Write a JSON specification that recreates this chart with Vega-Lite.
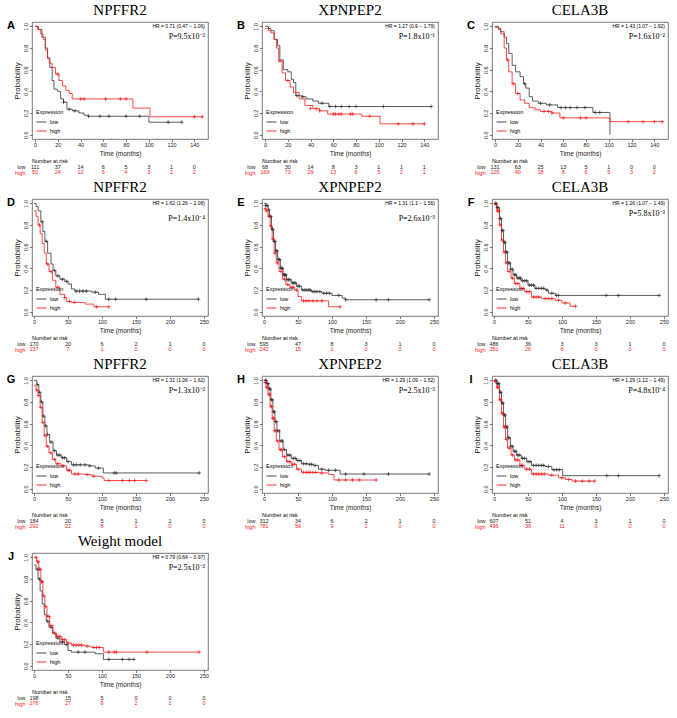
{
"$schema": "https://vega.github.io/schema/vega-lite/v6.json",
"padding": {"left": 6, "top": 2, "right": 2, "bottom": 2},
"background": "white",
"columns": 3,
"spacing": {"row": 3, "column": 27},
"resolve": {"scale": {"color": "independent"}},
"datasets": {
"ann": [
{"p":"A","letter":"A","title":"NPFFR2","hr":"HR = 0.71 (0.47 − 1.06)","pv":"P=9.5x10⁻²"},
{"p":"B","letter":"B","title":"XPNPEP2","hr":"HR = 1.27 (0.9 − 1.79)","pv":"P=1.8x10⁻¹"},
{"p":"C","letter":"C","title":"CELA3B","hr":"HR = 1.43 (1.07 − 1.92)","pv":"P=1.6x10⁻²"},
{"p":"D","letter":"D","title":"NPFFR2","hr":"HR = 1.62 (1.26 − 2.08)","pv":"P=1.4x10⁻⁴"},
{"p":"E","letter":"E","title":"XPNPEP2","hr":"HR = 1.31 (1.1 − 1.56)","pv":"P=2.6x10⁻³"},
{"p":"F","letter":"F","title":"CELA3B","hr":"HR = 1.26 (1.07 − 1.49)","pv":"P=5.8x10⁻³"},
{"p":"G","letter":"G","title":"NPFFR2","hr":"HR = 1.31 (1.06 − 1.62)","pv":"P=1.3x10⁻²"},
{"p":"H","letter":"H","title":"XPNPEP2","hr":"HR = 1.29 (1.09 − 1.52)","pv":"P=2.5x10⁻³"},
{"p":"I","letter":"I","title":"CELA3B","hr":"HR = 1.29 (1.12 − 1.49)","pv":"P=4.8x10⁻⁴"},
{"p":"J","letter":"J","title":"Weight model","hr":"HR = 0.79 (0.64 − 0.97)","pv":"P=2.5x10⁻²"}
],
"risk": [
{"p":"A","g":"low","t":0,"n":111},{"p":"A","g":"low","t":20,"n":37},{"p":"A","g":"low","t":40,"n":14},{"p":"A","g":"low","t":60,"n":6},{"p":"A","g":"low","t":80,"n":5},{"p":"A","g":"low","t":100,"n":3},{"p":"A","g":"low","t":120,"n":1},{"p":"A","g":"low","t":140,"n":0},
{"p":"A","g":"high","t":0,"n":50},{"p":"A","g":"high","t":20,"n":24},{"p":"A","g":"high","t":40,"n":12},{"p":"A","g":"high","t":60,"n":6},{"p":"A","g":"high","t":80,"n":4},{"p":"A","g":"high","t":100,"n":3},{"p":"A","g":"high","t":120,"n":2},{"p":"A","g":"high","t":140,"n":2},
{"p":"B","g":"low","t":0,"n":68},{"p":"B","g":"low","t":20,"n":30},{"p":"B","g":"low","t":40,"n":14},{"p":"B","g":"low","t":60,"n":8},{"p":"B","g":"low","t":80,"n":3},{"p":"B","g":"low","t":100,"n":1},{"p":"B","g":"low","t":120,"n":1},{"p":"B","g":"low","t":140,"n":1},
{"p":"B","g":"high","t":0,"n":169},{"p":"B","g":"high","t":20,"n":73},{"p":"B","g":"high","t":40,"n":29},{"p":"B","g":"high","t":60,"n":13},{"p":"B","g":"high","t":80,"n":6},{"p":"B","g":"high","t":100,"n":5},{"p":"B","g":"high","t":120,"n":2},{"p":"B","g":"high","t":140,"n":1},
{"p":"C","g":"low","t":0,"n":131},{"p":"C","g":"low","t":20,"n":63},{"p":"C","g":"low","t":40,"n":25},{"p":"C","g":"low","t":60,"n":13},{"p":"C","g":"low","t":80,"n":5},{"p":"C","g":"low","t":100,"n":1},{"p":"C","g":"low","t":120,"n":0},{"p":"C","g":"low","t":140,"n":0},
{"p":"C","g":"high","t":0,"n":125},{"p":"C","g":"high","t":20,"n":40},{"p":"C","g":"high","t":40,"n":18},{"p":"C","g":"high","t":60,"n":8},{"p":"C","g":"high","t":80,"n":6},{"p":"C","g":"high","t":100,"n":5},{"p":"C","g":"high","t":120,"n":3},{"p":"C","g":"high","t":140,"n":2},
{"p":"D","g":"low","t":0,"n":170},{"p":"D","g":"low","t":50,"n":20},{"p":"D","g":"low","t":100,"n":6},{"p":"D","g":"low","t":150,"n":2},{"p":"D","g":"low","t":200,"n":1},{"p":"D","g":"low","t":250,"n":0},
{"p":"D","g":"high","t":0,"n":137},{"p":"D","g":"high","t":50,"n":7},{"p":"D","g":"high","t":100,"n":1},{"p":"D","g":"high","t":150,"n":0},{"p":"D","g":"high","t":200,"n":0},{"p":"D","g":"high","t":250,"n":0},
{"p":"E","g":"low","t":0,"n":595},{"p":"E","g":"low","t":50,"n":47},{"p":"E","g":"low","t":100,"n":8},{"p":"E","g":"low","t":150,"n":3},{"p":"E","g":"low","t":200,"n":1},{"p":"E","g":"low","t":250,"n":0},
{"p":"E","g":"high","t":0,"n":242},{"p":"E","g":"high","t":50,"n":15},{"p":"E","g":"high","t":100,"n":1},{"p":"E","g":"high","t":150,"n":0},{"p":"E","g":"high","t":200,"n":0},{"p":"E","g":"high","t":250,"n":0},
{"p":"F","g":"low","t":0,"n":486},{"p":"F","g":"low","t":50,"n":36},{"p":"F","g":"low","t":100,"n":3},{"p":"F","g":"low","t":150,"n":3},{"p":"F","g":"low","t":200,"n":1},{"p":"F","g":"low","t":250,"n":0},
{"p":"F","g":"high","t":0,"n":351},{"p":"F","g":"high","t":50,"n":26},{"p":"F","g":"high","t":100,"n":6},{"p":"F","g":"high","t":150,"n":0},{"p":"F","g":"high","t":200,"n":0},{"p":"F","g":"high","t":250,"n":0},
{"p":"G","g":"low","t":0,"n":184},{"p":"G","g":"low","t":50,"n":20},{"p":"G","g":"low","t":100,"n":5},{"p":"G","g":"low","t":150,"n":1},{"p":"G","g":"low","t":200,"n":1},{"p":"G","g":"low","t":250,"n":0},
{"p":"G","g":"high","t":0,"n":292},{"p":"G","g":"high","t":50,"n":22},{"p":"G","g":"high","t":100,"n":8},{"p":"G","g":"high","t":150,"n":1},{"p":"G","g":"high","t":200,"n":0},{"p":"G","g":"high","t":250,"n":0},
{"p":"H","g":"low","t":0,"n":312},{"p":"H","g":"low","t":50,"n":34},{"p":"H","g":"low","t":100,"n":6},{"p":"H","g":"low","t":150,"n":2},{"p":"H","g":"low","t":200,"n":1},{"p":"H","g":"low","t":250,"n":0},
{"p":"H","g":"high","t":0,"n":781},{"p":"H","g":"high","t":50,"n":56},{"p":"H","g":"high","t":100,"n":9},{"p":"H","g":"high","t":150,"n":1},{"p":"H","g":"high","t":200,"n":0},{"p":"H","g":"high","t":250,"n":0},
{"p":"I","g":"low","t":0,"n":607},{"p":"I","g":"low","t":50,"n":51},{"p":"I","g":"low","t":100,"n":4},{"p":"I","g":"low","t":150,"n":3},{"p":"I","g":"low","t":200,"n":1},{"p":"I","g":"low","t":250,"n":0},
{"p":"I","g":"high","t":0,"n":496},{"p":"I","g":"high","t":50,"n":39},{"p":"I","g":"high","t":100,"n":11},{"p":"I","g":"high","t":150,"n":0},{"p":"I","g":"high","t":200,"n":0},{"p":"I","g":"high","t":250,"n":0},
{"p":"J","g":"low","t":0,"n":198},{"p":"J","g":"low","t":50,"n":15},{"p":"J","g":"low","t":100,"n":5},{"p":"J","g":"low","t":150,"n":0},{"p":"J","g":"low","t":200,"n":0},{"p":"J","g":"low","t":250,"n":0},
{"p":"J","g":"high","t":0,"n":276},{"p":"J","g":"high","t":50,"n":27},{"p":"J","g":"high","t":100,"n":8},{"p":"J","g":"high","t":150,"n":2},{"p":"J","g":"high","t":200,"n":1},{"p":"J","g":"high","t":250,"n":0}
],
"km": [
{"p":"A","g":"low","t":0,"s":1},{"p":"A","g":"low","t":3,"s":0.97},{"p":"A","g":"low","t":6,"s":0.9},{"p":"A","g":"low","t":9,"s":0.8},{"p":"A","g":"low","t":11,"s":0.71},{"p":"A","g":"low","t":13,"s":0.62},{"p":"A","g":"low","t":15,"s":0.5},{"p":"A","g":"low","t":16.6,"s":0.42},{"p":"A","g":"low","t":19.5,"s":0.4},{"p":"A","g":"low","t":22.5,"s":0.33},{"p":"A","g":"low","t":25,"s":0.3},{"p":"A","g":"low","t":28,"s":0.235},{"p":"A","g":"low","t":32.7,"s":0.22},{"p":"A","g":"low","t":38.5,"s":0.2},{"p":"A","g":"low","t":43,"s":0.18},{"p":"A","g":"low","t":47,"s":0.17},{"p":"A","g":"low","t":100,"s":0.115},{"p":"A","g":"low","t":129,"s":0.115},
{"p":"A","g":"high","t":0,"s":1},{"p":"A","g":"high","t":2,"s":0.97},{"p":"A","g":"high","t":5,"s":0.93},{"p":"A","g":"high","t":7,"s":0.88},{"p":"A","g":"high","t":9,"s":0.78},{"p":"A","g":"high","t":11,"s":0.7},{"p":"A","g":"high","t":12.5,"s":0.66},{"p":"A","g":"high","t":15,"s":0.62},{"p":"A","g":"high","t":18,"s":0.56},{"p":"A","g":"high","t":21,"s":0.5},{"p":"A","g":"high","t":24,"s":0.45},{"p":"A","g":"high","t":27,"s":0.41},{"p":"A","g":"high","t":30,"s":0.38},{"p":"A","g":"high","t":32.7,"s":0.33},{"p":"A","g":"high","t":86,"s":0.245},{"p":"A","g":"high","t":101,"s":0.165},{"p":"A","g":"high","t":147,"s":0.165},
{"p":"B","g":"low","t":0,"s":1},{"p":"B","g":"low","t":3,"s":0.98},{"p":"B","g":"low","t":5,"s":0.96},{"p":"B","g":"low","t":8,"s":0.88},{"p":"B","g":"low","t":11,"s":0.82},{"p":"B","g":"low","t":13,"s":0.69},{"p":"B","g":"low","t":16,"s":0.6},{"p":"B","g":"low","t":20,"s":0.58},{"p":"B","g":"low","t":23,"s":0.51},{"p":"B","g":"low","t":25,"s":0.48},{"p":"B","g":"low","t":27,"s":0.36},{"p":"B","g":"low","t":32,"s":0.35},{"p":"B","g":"low","t":36,"s":0.33},{"p":"B","g":"low","t":42,"s":0.31},{"p":"B","g":"low","t":47,"s":0.29},{"p":"B","g":"low","t":56,"s":0.26},{"p":"B","g":"low","t":146,"s":0.26},
{"p":"B","g":"high","t":0,"s":0.98},{"p":"B","g":"high","t":3,"s":0.96},{"p":"B","g":"high","t":5,"s":0.94},{"p":"B","g":"high","t":8,"s":0.88},{"p":"B","g":"high","t":10,"s":0.8},{"p":"B","g":"high","t":12,"s":0.68},{"p":"B","g":"high","t":15,"s":0.57},{"p":"B","g":"high","t":18,"s":0.5},{"p":"B","g":"high","t":22,"s":0.44},{"p":"B","g":"high","t":25,"s":0.39},{"p":"B","g":"high","t":30,"s":0.33},{"p":"B","g":"high","t":35,"s":0.27},{"p":"B","g":"high","t":42,"s":0.24},{"p":"B","g":"high","t":48,"s":0.22},{"p":"B","g":"high","t":55,"s":0.19},{"p":"B","g":"high","t":85,"s":0.17},{"p":"B","g":"high","t":101,"s":0.1},{"p":"B","g":"high","t":140,"s":0.1},
{"p":"C","g":"low","t":0,"s":1},{"p":"C","g":"low","t":3,"s":0.98},{"p":"C","g":"low","t":5,"s":0.95},{"p":"C","g":"low","t":8,"s":0.9},{"p":"C","g":"low","t":10,"s":0.84},{"p":"C","g":"low","t":12,"s":0.75},{"p":"C","g":"low","t":15,"s":0.64},{"p":"C","g":"low","t":18,"s":0.58},{"p":"C","g":"low","t":22,"s":0.535},{"p":"C","g":"low","t":25,"s":0.47},{"p":"C","g":"low","t":27,"s":0.43},{"p":"C","g":"low","t":30,"s":0.35},{"p":"C","g":"low","t":33,"s":0.31},{"p":"C","g":"low","t":38,"s":0.29},{"p":"C","g":"low","t":45,"s":0.275},{"p":"C","g":"low","t":55,"s":0.25},{"p":"C","g":"low","t":86,"s":0.205},{"p":"C","g":"low","t":101,"s":0},
{"p":"C","g":"high","t":0,"s":0.99},{"p":"C","g":"high","t":3,"s":0.97},{"p":"C","g":"high","t":5,"s":0.93},{"p":"C","g":"high","t":8,"s":0.8},{"p":"C","g":"high","t":10,"s":0.69},{"p":"C","g":"high","t":12,"s":0.58},{"p":"C","g":"high","t":15,"s":0.47},{"p":"C","g":"high","t":18,"s":0.38},{"p":"C","g":"high","t":22,"s":0.32},{"p":"C","g":"high","t":26,"s":0.29},{"p":"C","g":"high","t":30,"s":0.25},{"p":"C","g":"high","t":35,"s":0.23},{"p":"C","g":"high","t":40,"s":0.215},{"p":"C","g":"high","t":50,"s":0.2},{"p":"C","g":"high","t":57,"s":0.155},{"p":"C","g":"high","t":101,"s":0.12},{"p":"C","g":"high","t":147,"s":0.12},
{"p":"D","g":"low","t":0,"s":1},{"p":"D","g":"low","t":3,"s":0.97},{"p":"D","g":"low","t":6,"s":0.93},{"p":"D","g":"low","t":10,"s":0.83},{"p":"D","g":"low","t":13,"s":0.74},{"p":"D","g":"low","t":16,"s":0.65},{"p":"D","g":"low","t":20,"s":0.54},{"p":"D","g":"low","t":25,"s":0.44},{"p":"D","g":"low","t":28,"s":0.38},{"p":"D","g":"low","t":32,"s":0.33},{"p":"D","g":"low","t":38,"s":0.3},{"p":"D","g":"low","t":45,"s":0.28},{"p":"D","g":"low","t":50,"s":0.255},{"p":"D","g":"low","t":55,"s":0.21},{"p":"D","g":"low","t":60,"s":0.19},{"p":"D","g":"low","t":85,"s":0.18},{"p":"D","g":"low","t":95,"s":0.16},{"p":"D","g":"low","t":105,"s":0.115},{"p":"D","g":"low","t":242,"s":0.115},
{"p":"D","g":"high","t":0,"s":0.93},{"p":"D","g":"high","t":3,"s":0.88},{"p":"D","g":"high","t":6,"s":0.8},{"p":"D","g":"high","t":9,"s":0.72},{"p":"D","g":"high","t":12,"s":0.63},{"p":"D","g":"high","t":15,"s":0.54},{"p":"D","g":"high","t":18,"s":0.44},{"p":"D","g":"high","t":22,"s":0.37},{"p":"D","g":"high","t":27,"s":0.29},{"p":"D","g":"high","t":32,"s":0.225},{"p":"D","g":"high","t":38,"s":0.16},{"p":"D","g":"high","t":45,"s":0.13},{"p":"D","g":"high","t":48,"s":0.095},{"p":"D","g":"high","t":55,"s":0.085},{"p":"D","g":"high","t":75,"s":0.07},{"p":"D","g":"high","t":88,"s":0.045},{"p":"D","g":"high","t":110,"s":0.045},
{"p":"E","g":"low","t":0,"s":1},{"p":"E","g":"low","t":3,"s":0.98},{"p":"E","g":"low","t":6,"s":0.94},{"p":"E","g":"low","t":8,"s":0.88},{"p":"E","g":"low","t":11,"s":0.76},{"p":"E","g":"low","t":14,"s":0.65},{"p":"E","g":"low","t":17,"s":0.56},{"p":"E","g":"low","t":20,"s":0.48},{"p":"E","g":"low","t":24,"s":0.4},{"p":"E","g":"low","t":28,"s":0.34},{"p":"E","g":"low","t":33,"s":0.295},{"p":"E","g":"low","t":40,"s":0.265},{"p":"E","g":"low","t":48,"s":0.235},{"p":"E","g":"low","t":55,"s":0.2},{"p":"E","g":"low","t":70,"s":0.185},{"p":"E","g":"low","t":85,"s":0.17},{"p":"E","g":"low","t":100,"s":0.15},{"p":"E","g":"low","t":115,"s":0.125},{"p":"E","g":"low","t":120,"s":0.11},{"p":"E","g":"low","t":243,"s":0.11},
{"p":"E","g":"high","t":0,"s":0.95},{"p":"E","g":"high","t":3,"s":0.93},{"p":"E","g":"high","t":6,"s":0.88},{"p":"E","g":"high","t":9,"s":0.79},{"p":"E","g":"high","t":12,"s":0.67},{"p":"E","g":"high","t":15,"s":0.54},{"p":"E","g":"high","t":18,"s":0.45},{"p":"E","g":"high","t":22,"s":0.37},{"p":"E","g":"high","t":27,"s":0.3},{"p":"E","g":"high","t":32,"s":0.25},{"p":"E","g":"high","t":38,"s":0.225},{"p":"E","g":"high","t":45,"s":0.2},{"p":"E","g":"high","t":50,"s":0.14},{"p":"E","g":"high","t":55,"s":0.1},{"p":"E","g":"high","t":95,"s":0.045},{"p":"E","g":"high","t":112,"s":0.045},
{"p":"F","g":"low","t":0,"s":1},{"p":"F","g":"low","t":4,"s":0.96},{"p":"F","g":"low","t":8,"s":0.86},{"p":"F","g":"low","t":11,"s":0.75},{"p":"F","g":"low","t":14,"s":0.64},{"p":"F","g":"low","t":17,"s":0.55},{"p":"F","g":"low","t":20,"s":0.45},{"p":"F","g":"low","t":24,"s":0.39},{"p":"F","g":"low","t":28,"s":0.34},{"p":"F","g":"low","t":33,"s":0.31},{"p":"F","g":"low","t":40,"s":0.285},{"p":"F","g":"low","t":50,"s":0.245},{"p":"F","g":"low","t":60,"s":0.215},{"p":"F","g":"low","t":75,"s":0.2},{"p":"F","g":"low","t":80,"s":0.17},{"p":"F","g":"low","t":90,"s":0.15},{"p":"F","g":"low","t":243,"s":0.15},
{"p":"F","g":"high","t":0,"s":0.99},{"p":"F","g":"high","t":4,"s":0.93},{"p":"F","g":"high","t":8,"s":0.8},{"p":"F","g":"high","t":11,"s":0.66},{"p":"F","g":"high","t":14,"s":0.55},{"p":"F","g":"high","t":17,"s":0.45},{"p":"F","g":"high","t":20,"s":0.37},{"p":"F","g":"high","t":25,"s":0.31},{"p":"F","g":"high","t":30,"s":0.26},{"p":"F","g":"high","t":38,"s":0.215},{"p":"F","g":"high","t":45,"s":0.185},{"p":"F","g":"high","t":55,"s":0.135},{"p":"F","g":"high","t":70,"s":0.12},{"p":"F","g":"high","t":90,"s":0.105},{"p":"F","g":"high","t":100,"s":0.08},{"p":"F","g":"high","t":112,"s":0.05},{"p":"F","g":"high","t":120,"s":0.05},
{"p":"G","g":"low","t":0,"s":1},{"p":"G","g":"low","t":4,"s":0.96},{"p":"G","g":"low","t":7,"s":0.89},{"p":"G","g":"low","t":10,"s":0.8},{"p":"G","g":"low","t":13,"s":0.67},{"p":"G","g":"low","t":16,"s":0.58},{"p":"G","g":"low","t":19,"s":0.5},{"p":"G","g":"low","t":23,"s":0.43},{"p":"G","g":"low","t":28,"s":0.35},{"p":"G","g":"low","t":33,"s":0.31},{"p":"G","g":"low","t":40,"s":0.285},{"p":"G","g":"low","t":48,"s":0.25},{"p":"G","g":"low","t":55,"s":0.22},{"p":"G","g":"low","t":80,"s":0.21},{"p":"G","g":"low","t":90,"s":0.19},{"p":"G","g":"low","t":102,"s":0.145},{"p":"G","g":"low","t":243,"s":0.145},
{"p":"G","g":"high","t":0,"s":0.95},{"p":"G","g":"high","t":3,"s":0.91},{"p":"G","g":"high","t":6,"s":0.86},{"p":"G","g":"high","t":9,"s":0.75},{"p":"G","g":"high","t":12,"s":0.61},{"p":"G","g":"high","t":15,"s":0.49},{"p":"G","g":"high","t":18,"s":0.39},{"p":"G","g":"high","t":22,"s":0.33},{"p":"G","g":"high","t":27,"s":0.27},{"p":"G","g":"high","t":32,"s":0.23},{"p":"G","g":"high","t":40,"s":0.21},{"p":"G","g":"high","t":48,"s":0.17},{"p":"G","g":"high","t":55,"s":0.135},{"p":"G","g":"high","t":75,"s":0.13},{"p":"G","g":"high","t":85,"s":0.115},{"p":"G","g":"high","t":100,"s":0.1},{"p":"G","g":"high","t":103,"s":0.075},{"p":"G","g":"high","t":165,"s":0.075},
{"p":"H","g":"low","t":0,"s":1},{"p":"H","g":"low","t":4,"s":0.97},{"p":"H","g":"low","t":7,"s":0.92},{"p":"H","g":"low","t":10,"s":0.82},{"p":"H","g":"low","t":13,"s":0.71},{"p":"H","g":"low","t":16,"s":0.62},{"p":"H","g":"low","t":19,"s":0.535},{"p":"H","g":"low","t":23,"s":0.44},{"p":"H","g":"low","t":28,"s":0.36},{"p":"H","g":"low","t":33,"s":0.31},{"p":"H","g":"low","t":40,"s":0.28},{"p":"H","g":"low","t":48,"s":0.26},{"p":"H","g":"low","t":55,"s":0.23},{"p":"H","g":"low","t":65,"s":0.225},{"p":"H","g":"low","t":72,"s":0.215},{"p":"H","g":"low","t":80,"s":0.18},{"p":"H","g":"low","t":90,"s":0.17},{"p":"H","g":"low","t":112,"s":0.135},{"p":"H","g":"low","t":243,"s":0.135},
{"p":"H","g":"high","t":0,"s":0.98},{"p":"H","g":"high","t":3,"s":0.935},{"p":"H","g":"high","t":6,"s":0.87},{"p":"H","g":"high","t":9,"s":0.76},{"p":"H","g":"high","t":12,"s":0.65},{"p":"H","g":"high","t":15,"s":0.535},{"p":"H","g":"high","t":18,"s":0.44},{"p":"H","g":"high","t":22,"s":0.36},{"p":"H","g":"high","t":27,"s":0.295},{"p":"H","g":"high","t":33,"s":0.25},{"p":"H","g":"high","t":40,"s":0.225},{"p":"H","g":"high","t":48,"s":0.18},{"p":"H","g":"high","t":55,"s":0.15},{"p":"H","g":"high","t":80,"s":0.145},{"p":"H","g":"high","t":95,"s":0.13},{"p":"H","g":"high","t":103,"s":0.08},{"p":"H","g":"high","t":165,"s":0.08},
{"p":"I","g":"low","t":0,"s":1},{"p":"I","g":"low","t":4,"s":0.97},{"p":"I","g":"low","t":8,"s":0.89},{"p":"I","g":"low","t":11,"s":0.79},{"p":"I","g":"low","t":14,"s":0.68},{"p":"I","g":"low","t":17,"s":0.57},{"p":"I","g":"low","t":20,"s":0.47},{"p":"I","g":"low","t":24,"s":0.39},{"p":"I","g":"low","t":28,"s":0.345},{"p":"I","g":"low","t":33,"s":0.31},{"p":"I","g":"low","t":40,"s":0.28},{"p":"I","g":"low","t":48,"s":0.25},{"p":"I","g":"low","t":55,"s":0.215},{"p":"I","g":"low","t":75,"s":0.205},{"p":"I","g":"low","t":85,"s":0.175},{"p":"I","g":"low","t":101,"s":0.12},{"p":"I","g":"low","t":243,"s":0.12},
{"p":"I","g":"high","t":0,"s":0.99},{"p":"I","g":"high","t":4,"s":0.935},{"p":"I","g":"high","t":8,"s":0.82},{"p":"I","g":"high","t":11,"s":0.695},{"p":"I","g":"high","t":14,"s":0.57},{"p":"I","g":"high","t":17,"s":0.455},{"p":"I","g":"high","t":20,"s":0.375},{"p":"I","g":"high","t":25,"s":0.31},{"p":"I","g":"high","t":30,"s":0.265},{"p":"I","g":"high","t":38,"s":0.215},{"p":"I","g":"high","t":45,"s":0.18},{"p":"I","g":"high","t":55,"s":0.135},{"p":"I","g":"high","t":80,"s":0.125},{"p":"I","g":"high","t":95,"s":0.1},{"p":"I","g":"high","t":105,"s":0.085},{"p":"I","g":"high","t":115,"s":0.07},{"p":"I","g":"high","t":148,"s":0.07},
{"p":"J","g":"low","t":0,"s":0.93},{"p":"J","g":"low","t":3,"s":0.89},{"p":"J","g":"low","t":6,"s":0.8},{"p":"J","g":"low","t":9,"s":0.69},{"p":"J","g":"low","t":12,"s":0.57},{"p":"J","g":"low","t":15,"s":0.47},{"p":"J","g":"low","t":18,"s":0.41},{"p":"J","g":"low","t":22,"s":0.355},{"p":"J","g":"low","t":27,"s":0.3},{"p":"J","g":"low","t":32,"s":0.255},{"p":"J","g":"low","t":38,"s":0.22},{"p":"J","g":"low","t":45,"s":0.195},{"p":"J","g":"low","t":50,"s":0.14},{"p":"J","g":"low","t":55,"s":0.125},{"p":"J","g":"low","t":90,"s":0.11},{"p":"J","g":"low","t":102,"s":0.058},{"p":"J","g":"low","t":147,"s":0.058},
{"p":"J","g":"high","t":0,"s":1},{"p":"J","g":"high","t":4,"s":0.96},{"p":"J","g":"high","t":7,"s":0.89},{"p":"J","g":"high","t":10,"s":0.775},{"p":"J","g":"high","t":13,"s":0.645},{"p":"J","g":"high","t":16,"s":0.545},{"p":"J","g":"high","t":19,"s":0.455},{"p":"J","g":"high","t":23,"s":0.37},{"p":"J","g":"high","t":28,"s":0.3},{"p":"J","g":"high","t":33,"s":0.27},{"p":"J","g":"high","t":40,"s":0.24},{"p":"J","g":"high","t":48,"s":0.21},{"p":"J","g":"high","t":55,"s":0.19},{"p":"J","g":"high","t":75,"s":0.18},{"p":"J","g":"high","t":85,"s":0.168},{"p":"J","g":"high","t":102,"s":0.125},{"p":"J","g":"high","t":243,"s":0.125}
],
"cens": [
{"p":"A","g":"low","t":25,"s":0.3},{"p":"A","g":"low","t":30,"s":0.235},{"p":"A","g":"low","t":35,"s":0.22},{"p":"A","g":"low","t":47,"s":0.17},{"p":"A","g":"low","t":57,"s":0.17},{"p":"A","g":"low","t":65,"s":0.17},{"p":"A","g":"low","t":80,"s":0.17},{"p":"A","g":"low","t":92,"s":0.17},{"p":"A","g":"low","t":117,"s":0.115},{"p":"A","g":"low","t":129,"s":0.115},
{"p":"A","g":"high","t":20,"s":0.56},{"p":"A","g":"high","t":40,"s":0.33},{"p":"A","g":"high","t":43,"s":0.33},{"p":"A","g":"high","t":62,"s":0.33},{"p":"A","g":"high","t":75,"s":0.33},{"p":"A","g":"high","t":80,"s":0.33},{"p":"A","g":"high","t":140,"s":0.165},{"p":"A","g":"high","t":147,"s":0.165},
{"p":"B","g":"low","t":28,"s":0.36},{"p":"B","g":"low","t":33,"s":0.35},{"p":"B","g":"low","t":50,"s":0.29},{"p":"B","g":"low","t":57,"s":0.26},{"p":"B","g":"low","t":62,"s":0.26},{"p":"B","g":"low","t":67,"s":0.26},{"p":"B","g":"low","t":74,"s":0.26},{"p":"B","g":"low","t":80,"s":0.26},{"p":"B","g":"low","t":104,"s":0.26},{"p":"B","g":"low","t":146,"s":0.26},
{"p":"B","g":"high","t":13,"s":0.68},{"p":"B","g":"high","t":20,"s":0.5},{"p":"B","g":"high","t":40,"s":0.24},{"p":"B","g":"high","t":45,"s":0.24},{"p":"B","g":"high","t":48,"s":0.22},{"p":"B","g":"high","t":60,"s":0.19},{"p":"B","g":"high","t":62,"s":0.19},{"p":"B","g":"high","t":65,"s":0.19},{"p":"B","g":"high","t":67,"s":0.19},{"p":"B","g":"high","t":75,"s":0.19},{"p":"B","g":"high","t":77,"s":0.19},{"p":"B","g":"high","t":92,"s":0.17},{"p":"B","g":"high","t":117,"s":0.1},{"p":"B","g":"high","t":130,"s":0.1},{"p":"B","g":"high","t":140,"s":0.1},
{"p":"C","g":"low","t":26,"s":0.47},{"p":"C","g":"low","t":40,"s":0.29},{"p":"C","g":"low","t":48,"s":0.275},{"p":"C","g":"low","t":58,"s":0.25},{"p":"C","g":"low","t":62,"s":0.25},{"p":"C","g":"low","t":66,"s":0.25},{"p":"C","g":"low","t":72,"s":0.25},{"p":"C","g":"low","t":79,"s":0.25},{"p":"C","g":"low","t":88,"s":0.205},{"p":"C","g":"low","t":92,"s":0.205},
{"p":"C","g":"high","t":11,"s":0.69},{"p":"C","g":"high","t":16,"s":0.47},{"p":"C","g":"high","t":20,"s":0.38},{"p":"C","g":"high","t":43,"s":0.215},{"p":"C","g":"high","t":47,"s":0.215},{"p":"C","g":"high","t":50,"s":0.2},{"p":"C","g":"high","t":60,"s":0.155},{"p":"C","g":"high","t":75,"s":0.155},{"p":"C","g":"high","t":80,"s":0.155},{"p":"C","g":"high","t":117,"s":0.12},{"p":"C","g":"high","t":130,"s":0.12},{"p":"C","g":"high","t":140,"s":0.12},{"p":"C","g":"high","t":147,"s":0.12},
{"p":"D","g":"low","t":12,"s":0.83},{"p":"D","g":"low","t":18,"s":0.65},{"p":"D","g":"low","t":30,"s":0.38},{"p":"D","g":"low","t":35,"s":0.33},{"p":"D","g":"low","t":42,"s":0.3},{"p":"D","g":"low","t":48,"s":0.28},{"p":"D","g":"low","t":62,"s":0.19},{"p":"D","g":"low","t":67,"s":0.19},{"p":"D","g":"low","t":72,"s":0.19},{"p":"D","g":"low","t":77,"s":0.19},{"p":"D","g":"low","t":90,"s":0.18},{"p":"D","g":"low","t":110,"s":0.115},{"p":"D","g":"low","t":120,"s":0.115},{"p":"D","g":"low","t":165,"s":0.115},{"p":"D","g":"low","t":242,"s":0.115},
{"p":"D","g":"high","t":8,"s":0.8},{"p":"D","g":"high","t":20,"s":0.44},{"p":"D","g":"high","t":25,"s":0.37},{"p":"D","g":"high","t":35,"s":0.225},{"p":"D","g":"high","t":45,"s":0.13},{"p":"D","g":"high","t":52,"s":0.095},{"p":"D","g":"high","t":60,"s":0.085},{"p":"D","g":"high","t":92,"s":0.045},{"p":"D","g":"high","t":110,"s":0.045},
{"p":"E","g":"low","t":2,"s":0.98},{"p":"E","g":"low","t":4,"s":0.98},{"p":"E","g":"low","t":5,"s":0.98},{"p":"E","g":"low","t":7,"s":0.94},{"p":"E","g":"low","t":9,"s":0.88},{"p":"E","g":"low","t":10,"s":0.88},{"p":"E","g":"low","t":12,"s":0.76},{"p":"E","g":"low","t":13,"s":0.76},{"p":"E","g":"low","t":15,"s":0.65},{"p":"E","g":"low","t":16,"s":0.65},{"p":"E","g":"low","t":18,"s":0.56},{"p":"E","g":"low","t":19,"s":0.56},{"p":"E","g":"low","t":21,"s":0.48},{"p":"E","g":"low","t":22,"s":0.48},{"p":"E","g":"low","t":23,"s":0.48},{"p":"E","g":"low","t":25,"s":0.4},{"p":"E","g":"low","t":26,"s":0.4},{"p":"E","g":"low","t":27,"s":0.4},{"p":"E","g":"low","t":29,"s":0.34},{"p":"E","g":"low","t":30,"s":0.34},{"p":"E","g":"low","t":31,"s":0.34},{"p":"E","g":"low","t":32,"s":0.34},{"p":"E","g":"low","t":34,"s":0.295},{"p":"E","g":"low","t":36,"s":0.295},{"p":"E","g":"low","t":38,"s":0.295},{"p":"E","g":"low","t":42,"s":0.265},{"p":"E","g":"low","t":44,"s":0.265},{"p":"E","g":"low","t":46,"s":0.265},{"p":"E","g":"low","t":50,"s":0.235},{"p":"E","g":"low","t":52,"s":0.235},{"p":"E","g":"low","t":57,"s":0.2},{"p":"E","g":"low","t":60,"s":0.2},{"p":"E","g":"low","t":63,"s":0.2},{"p":"E","g":"low","t":66,"s":0.2},{"p":"E","g":"low","t":68,"s":0.2},{"p":"E","g":"low","t":72,"s":0.185},{"p":"E","g":"low","t":75,"s":0.185},{"p":"E","g":"low","t":78,"s":0.185},{"p":"E","g":"low","t":82,"s":0.185},{"p":"E","g":"low","t":88,"s":0.17},{"p":"E","g":"low","t":92,"s":0.17},{"p":"E","g":"low","t":96,"s":0.17},{"p":"E","g":"low","t":110,"s":0.15},{"p":"E","g":"low","t":120,"s":0.11},{"p":"E","g":"low","t":165,"s":0.11},{"p":"E","g":"low","t":183,"s":0.11},{"p":"E","g":"low","t":243,"s":0.11},
{"p":"E","g":"high","t":2,"s":0.95},{"p":"E","g":"high","t":4,"s":0.93},{"p":"E","g":"high","t":7,"s":0.88},{"p":"E","g":"high","t":10,"s":0.79},{"p":"E","g":"high","t":13,"s":0.67},{"p":"E","g":"high","t":16,"s":0.54},{"p":"E","g":"high","t":20,"s":0.45},{"p":"E","g":"high","t":25,"s":0.37},{"p":"E","g":"high","t":30,"s":0.3},{"p":"E","g":"high","t":35,"s":0.25},{"p":"E","g":"high","t":40,"s":0.225},{"p":"E","g":"high","t":43,"s":0.225},{"p":"E","g":"high","t":48,"s":0.2},{"p":"E","g":"high","t":58,"s":0.1},{"p":"E","g":"high","t":62,"s":0.1},{"p":"E","g":"high","t":66,"s":0.1},{"p":"E","g":"high","t":72,"s":0.1},{"p":"E","g":"high","t":78,"s":0.1},{"p":"E","g":"high","t":85,"s":0.1},{"p":"E","g":"high","t":112,"s":0.045},
{"p":"F","g":"low","t":2,"s":1},{"p":"F","g":"low","t":3,"s":1},{"p":"F","g":"low","t":5,"s":0.96},{"p":"F","g":"low","t":6,"s":0.96},{"p":"F","g":"low","t":9,"s":0.86},{"p":"F","g":"low","t":10,"s":0.86},{"p":"F","g":"low","t":12,"s":0.75},{"p":"F","g":"low","t":13,"s":0.75},{"p":"F","g":"low","t":15,"s":0.64},{"p":"F","g":"low","t":16,"s":0.64},{"p":"F","g":"low","t":18,"s":0.55},{"p":"F","g":"low","t":19,"s":0.55},{"p":"F","g":"low","t":21,"s":0.45},{"p":"F","g":"low","t":23,"s":0.45},{"p":"F","g":"low","t":25,"s":0.39},{"p":"F","g":"low","t":27,"s":0.39},{"p":"F","g":"low","t":30,"s":0.34},{"p":"F","g":"low","t":32,"s":0.34},{"p":"F","g":"low","t":35,"s":0.31},{"p":"F","g":"low","t":37,"s":0.31},{"p":"F","g":"low","t":39,"s":0.31},{"p":"F","g":"low","t":42,"s":0.285},{"p":"F","g":"low","t":45,"s":0.285},{"p":"F","g":"low","t":48,"s":0.285},{"p":"F","g":"low","t":52,"s":0.245},{"p":"F","g":"low","t":55,"s":0.245},{"p":"F","g":"low","t":58,"s":0.245},{"p":"F","g":"low","t":62,"s":0.215},{"p":"F","g":"low","t":66,"s":0.215},{"p":"F","g":"low","t":70,"s":0.215},{"p":"F","g":"low","t":73,"s":0.215},{"p":"F","g":"low","t":78,"s":0.2},{"p":"F","g":"low","t":85,"s":0.17},{"p":"F","g":"low","t":92,"s":0.15},{"p":"F","g":"low","t":95,"s":0.15},{"p":"F","g":"low","t":165,"s":0.15},{"p":"F","g":"low","t":183,"s":0.15},{"p":"F","g":"low","t":243,"s":0.15},
{"p":"F","g":"high","t":3,"s":0.99},{"p":"F","g":"high","t":5,"s":0.93},{"p":"F","g":"high","t":7,"s":0.93},{"p":"F","g":"high","t":9,"s":0.8},{"p":"F","g":"high","t":12,"s":0.66},{"p":"F","g":"high","t":15,"s":0.55},{"p":"F","g":"high","t":18,"s":0.45},{"p":"F","g":"high","t":22,"s":0.37},{"p":"F","g":"high","t":27,"s":0.31},{"p":"F","g":"high","t":32,"s":0.26},{"p":"F","g":"high","t":35,"s":0.26},{"p":"F","g":"high","t":40,"s":0.215},{"p":"F","g":"high","t":43,"s":0.215},{"p":"F","g":"high","t":48,"s":0.185},{"p":"F","g":"high","t":52,"s":0.185},{"p":"F","g":"high","t":58,"s":0.135},{"p":"F","g":"high","t":62,"s":0.135},{"p":"F","g":"high","t":66,"s":0.135},{"p":"F","g":"high","t":75,"s":0.12},{"p":"F","g":"high","t":80,"s":0.12},{"p":"F","g":"high","t":85,"s":0.12},{"p":"F","g":"high","t":95,"s":0.105},{"p":"F","g":"high","t":105,"s":0.08},{"p":"F","g":"high","t":120,"s":0.05},
{"p":"G","g":"low","t":5,"s":0.96},{"p":"G","g":"low","t":8,"s":0.89},{"p":"G","g":"low","t":11,"s":0.8},{"p":"G","g":"low","t":14,"s":0.67},{"p":"G","g":"low","t":17,"s":0.58},{"p":"G","g":"low","t":20,"s":0.5},{"p":"G","g":"low","t":25,"s":0.43},{"p":"G","g":"low","t":30,"s":0.35},{"p":"G","g":"low","t":35,"s":0.31},{"p":"G","g":"low","t":38,"s":0.31},{"p":"G","g":"low","t":42,"s":0.285},{"p":"G","g":"low","t":45,"s":0.285},{"p":"G","g":"low","t":50,"s":0.25},{"p":"G","g":"low","t":58,"s":0.22},{"p":"G","g":"low","t":62,"s":0.22},{"p":"G","g":"low","t":68,"s":0.22},{"p":"G","g":"low","t":75,"s":0.22},{"p":"G","g":"low","t":82,"s":0.21},{"p":"G","g":"low","t":95,"s":0.19},{"p":"G","g":"low","t":118,"s":0.145},{"p":"G","g":"low","t":121,"s":0.145},{"p":"G","g":"low","t":243,"s":0.145},
{"p":"G","g":"high","t":4,"s":0.91},{"p":"G","g":"high","t":7,"s":0.86},{"p":"G","g":"high","t":10,"s":0.75},{"p":"G","g":"high","t":13,"s":0.61},{"p":"G","g":"high","t":16,"s":0.49},{"p":"G","g":"high","t":20,"s":0.39},{"p":"G","g":"high","t":25,"s":0.33},{"p":"G","g":"high","t":30,"s":0.27},{"p":"G","g":"high","t":35,"s":0.23},{"p":"G","g":"high","t":43,"s":0.21},{"p":"G","g":"high","t":50,"s":0.17},{"p":"G","g":"high","t":52,"s":0.17},{"p":"G","g":"high","t":60,"s":0.135},{"p":"G","g":"high","t":65,"s":0.135},{"p":"G","g":"high","t":78,"s":0.13},{"p":"G","g":"high","t":88,"s":0.115},{"p":"G","g":"high","t":110,"s":0.075},{"p":"G","g":"high","t":130,"s":0.075},{"p":"G","g":"high","t":140,"s":0.075},{"p":"G","g":"high","t":148,"s":0.075},{"p":"G","g":"high","t":165,"s":0.075},
{"p":"H","g":"low","t":2,"s":1},{"p":"H","g":"low","t":3,"s":1},{"p":"H","g":"low","t":5,"s":0.97},{"p":"H","g":"low","t":6,"s":0.97},{"p":"H","g":"low","t":8,"s":0.92},{"p":"H","g":"low","t":9,"s":0.92},{"p":"H","g":"low","t":11,"s":0.82},{"p":"H","g":"low","t":12,"s":0.82},{"p":"H","g":"low","t":14,"s":0.71},{"p":"H","g":"low","t":15,"s":0.71},{"p":"H","g":"low","t":17,"s":0.62},{"p":"H","g":"low","t":18,"s":0.62},{"p":"H","g":"low","t":20,"s":0.535},{"p":"H","g":"low","t":22,"s":0.535},{"p":"H","g":"low","t":25,"s":0.44},{"p":"H","g":"low","t":27,"s":0.44},{"p":"H","g":"low","t":30,"s":0.36},{"p":"H","g":"low","t":35,"s":0.31},{"p":"H","g":"low","t":38,"s":0.31},{"p":"H","g":"low","t":43,"s":0.28},{"p":"H","g":"low","t":46,"s":0.28},{"p":"H","g":"low","t":50,"s":0.26},{"p":"H","g":"low","t":53,"s":0.26},{"p":"H","g":"low","t":58,"s":0.23},{"p":"H","g":"low","t":62,"s":0.23},{"p":"H","g":"low","t":67,"s":0.225},{"p":"H","g":"low","t":70,"s":0.225},{"p":"H","g":"low","t":75,"s":0.215},{"p":"H","g":"low","t":85,"s":0.18},{"p":"H","g":"low","t":95,"s":0.17},{"p":"H","g":"low","t":105,"s":0.17},{"p":"H","g":"low","t":120,"s":0.135},{"p":"H","g":"low","t":147,"s":0.135},{"p":"H","g":"low","t":183,"s":0.135},{"p":"H","g":"low","t":243,"s":0.135},
{"p":"H","g":"high","t":2,"s":0.98},{"p":"H","g":"high","t":4,"s":0.935},{"p":"H","g":"high","t":5,"s":0.935},{"p":"H","g":"high","t":7,"s":0.87},{"p":"H","g":"high","t":8,"s":0.87},{"p":"H","g":"high","t":10,"s":0.76},{"p":"H","g":"high","t":11,"s":0.76},{"p":"H","g":"high","t":13,"s":0.65},{"p":"H","g":"high","t":14,"s":0.65},{"p":"H","g":"high","t":16,"s":0.535},{"p":"H","g":"high","t":17,"s":0.535},{"p":"H","g":"high","t":20,"s":0.44},{"p":"H","g":"high","t":24,"s":0.36},{"p":"H","g":"high","t":26,"s":0.36},{"p":"H","g":"high","t":30,"s":0.295},{"p":"H","g":"high","t":35,"s":0.25},{"p":"H","g":"high","t":38,"s":0.25},{"p":"H","g":"high","t":42,"s":0.225},{"p":"H","g":"high","t":45,"s":0.225},{"p":"H","g":"high","t":50,"s":0.18},{"p":"H","g":"high","t":58,"s":0.15},{"p":"H","g":"high","t":62,"s":0.15},{"p":"H","g":"high","t":65,"s":0.15},{"p":"H","g":"high","t":68,"s":0.15},{"p":"H","g":"high","t":72,"s":0.15},{"p":"H","g":"high","t":76,"s":0.15},{"p":"H","g":"high","t":85,"s":0.145},{"p":"H","g":"high","t":110,"s":0.08},{"p":"H","g":"high","t":120,"s":0.08},{"p":"H","g":"high","t":130,"s":0.08},{"p":"H","g":"high","t":140,"s":0.08},{"p":"H","g":"high","t":165,"s":0.08},
{"p":"I","g":"low","t":2,"s":1},{"p":"I","g":"low","t":3,"s":1},{"p":"I","g":"low","t":5,"s":0.97},{"p":"I","g":"low","t":6,"s":0.97},{"p":"I","g":"low","t":7,"s":0.97},{"p":"I","g":"low","t":9,"s":0.89},{"p":"I","g":"low","t":10,"s":0.89},{"p":"I","g":"low","t":12,"s":0.79},{"p":"I","g":"low","t":13,"s":0.79},{"p":"I","g":"low","t":15,"s":0.68},{"p":"I","g":"low","t":16,"s":0.68},{"p":"I","g":"low","t":18,"s":0.57},{"p":"I","g":"low","t":19,"s":0.57},{"p":"I","g":"low","t":21,"s":0.47},{"p":"I","g":"low","t":22,"s":0.47},{"p":"I","g":"low","t":25,"s":0.39},{"p":"I","g":"low","t":27,"s":0.39},{"p":"I","g":"low","t":30,"s":0.345},{"p":"I","g":"low","t":32,"s":0.345},{"p":"I","g":"low","t":35,"s":0.31},{"p":"I","g":"low","t":37,"s":0.31},{"p":"I","g":"low","t":42,"s":0.28},{"p":"I","g":"low","t":45,"s":0.28},{"p":"I","g":"low","t":50,"s":0.25},{"p":"I","g":"low","t":53,"s":0.25},{"p":"I","g":"low","t":58,"s":0.215},{"p":"I","g":"low","t":62,"s":0.215},{"p":"I","g":"low","t":66,"s":0.215},{"p":"I","g":"low","t":70,"s":0.215},{"p":"I","g":"low","t":73,"s":0.215},{"p":"I","g":"low","t":80,"s":0.205},{"p":"I","g":"low","t":88,"s":0.175},{"p":"I","g":"low","t":92,"s":0.175},{"p":"I","g":"low","t":96,"s":0.175},{"p":"I","g":"low","t":166,"s":0.12},{"p":"I","g":"low","t":183,"s":0.12},{"p":"I","g":"low","t":243,"s":0.12},
{"p":"I","g":"high","t":2,"s":0.99},{"p":"I","g":"high","t":5,"s":0.935},{"p":"I","g":"high","t":6,"s":0.935},{"p":"I","g":"high","t":9,"s":0.82},{"p":"I","g":"high","t":10,"s":0.82},{"p":"I","g":"high","t":12,"s":0.695},{"p":"I","g":"high","t":13,"s":0.695},{"p":"I","g":"high","t":15,"s":0.57},{"p":"I","g":"high","t":16,"s":0.57},{"p":"I","g":"high","t":18,"s":0.455},{"p":"I","g":"high","t":22,"s":0.375},{"p":"I","g":"high","t":27,"s":0.31},{"p":"I","g":"high","t":32,"s":0.265},{"p":"I","g":"high","t":35,"s":0.265},{"p":"I","g":"high","t":40,"s":0.215},{"p":"I","g":"high","t":42,"s":0.215},{"p":"I","g":"high","t":48,"s":0.18},{"p":"I","g":"high","t":52,"s":0.18},{"p":"I","g":"high","t":58,"s":0.135},{"p":"I","g":"high","t":62,"s":0.135},{"p":"I","g":"high","t":66,"s":0.135},{"p":"I","g":"high","t":70,"s":0.135},{"p":"I","g":"high","t":74,"s":0.135},{"p":"I","g":"high","t":85,"s":0.125},{"p":"I","g":"high","t":100,"s":0.1},{"p":"I","g":"high","t":110,"s":0.085},{"p":"I","g":"high","t":120,"s":0.07},{"p":"I","g":"high","t":130,"s":0.07},{"p":"I","g":"high","t":140,"s":0.07},{"p":"I","g":"high","t":148,"s":0.07},
{"p":"J","g":"low","t":5,"s":0.89},{"p":"J","g":"low","t":8,"s":0.8},{"p":"J","g":"low","t":20,"s":0.41},{"p":"J","g":"low","t":25,"s":0.355},{"p":"J","g":"low","t":35,"s":0.255},{"p":"J","g":"low","t":42,"s":0.22},{"p":"J","g":"low","t":48,"s":0.195},{"p":"J","g":"low","t":65,"s":0.125},{"p":"J","g":"low","t":75,"s":0.125},{"p":"J","g":"low","t":110,"s":0.058},{"p":"J","g":"low","t":130,"s":0.058},{"p":"J","g":"low","t":140,"s":0.058},{"p":"J","g":"low","t":147,"s":0.058},
{"p":"J","g":"high","t":3,"s":1},{"p":"J","g":"high","t":5,"s":0.96},{"p":"J","g":"high","t":6,"s":0.96},{"p":"J","g":"high","t":8,"s":0.89},{"p":"J","g":"high","t":9,"s":0.89},{"p":"J","g":"high","t":11,"s":0.775},{"p":"J","g":"high","t":12,"s":0.775},{"p":"J","g":"high","t":14,"s":0.645},{"p":"J","g":"high","t":17,"s":0.545},{"p":"J","g":"high","t":20,"s":0.455},{"p":"J","g":"high","t":22,"s":0.455},{"p":"J","g":"high","t":25,"s":0.37},{"p":"J","g":"high","t":30,"s":0.3},{"p":"J","g":"high","t":35,"s":0.27},{"p":"J","g":"high","t":38,"s":0.27},{"p":"J","g":"high","t":42,"s":0.24},{"p":"J","g":"high","t":45,"s":0.24},{"p":"J","g":"high","t":50,"s":0.21},{"p":"J","g":"high","t":58,"s":0.19},{"p":"J","g":"high","t":62,"s":0.19},{"p":"J","g":"high","t":66,"s":0.19},{"p":"J","g":"high","t":70,"s":0.19},{"p":"J","g":"high","t":78,"s":0.18},{"p":"J","g":"high","t":88,"s":0.168},{"p":"J","g":"high","t":92,"s":0.168},{"p":"J","g":"high","t":96,"s":0.168},{"p":"J","g":"high","t":110,"s":0.125},{"p":"J","g":"high","t":118,"s":0.125},{"p":"J","g":"high","t":121,"s":0.125},{"p":"J","g":"high","t":166,"s":0.125},{"p":"J","g":"high","t":243,"s":0.125}
]
},
"concat": [
{"spacing": 1, "resolve": {"scale": {"color": "independent"}}, "vconcat": [
 {"width": 176, "height": 117, "title": "NPFFR2", "layer": [
  {"data": {"name": "km"}, "transform": [{"filter": "datum.p=='A'"}], "mark": {"type": "line", "interpolate": "step-after", "strokeWidth": 0.8},
   "encoding": {"x": {"field": "t", "type": "quantitative", "scale": {"domain": [-2.7, 152], "nice": false, "zero": false}, "axis": {"values": [0,20,40,60,80,100,120,140], "title": "Time (months)"}},
    "y": {"field": "s", "type": "quantitative", "scale": {"domain": [-0.04, 1.04], "nice": false}, "axis": {"values": [0,0.2,0.4,0.6,0.8,1], "format": ".1f", "title": "Probability"}},
    "color": {"field": "g", "type": "nominal", "scale": {"domain": ["low","high"], "range": ["#333333","#ff1a1a"]}, "legend": {"title": "Expression"}}}},
  {"data": {"name": "cens"}, "transform": [{"filter": "datum.p=='A'"}], "mark": {"type": "point", "shape": "M-1,0H1M0,-1V1", "size": 14, "strokeWidth": 0.7, "filled": false, "opacity": 1},
   "encoding": {"x": {"field": "t", "type": "quantitative", "axis": {"values": [0,20,40,60,80,100,120,140], "title": "Time (months)"}}, "y": {"field": "s", "type": "quantitative", "axis": {"values": [0,0.2,0.4,0.6,0.8,1], "format": ".1f", "title": "Probability"}}, "color": {"field": "g", "type": "nominal"}}},
  {"data": {"name": "ann"}, "transform": [{"filter": "datum.p=='A'"}], "mark": {"type": "text", "align": "right", "fontSize": 5, "dx": -3}, "encoding": {"x": {"datum": 152, "axis": {"values": [0,20,40,60,80,100,120,140], "title": "Time (months)"}}, "y": {"datum": 1.0, "axis": {"values": [0,0.2,0.4,0.6,0.8,1], "format": ".1f", "title": "Probability"}}, "text": {"field": "hr"}}},
  {"data": {"name": "ann"}, "transform": [{"filter": "datum.p=='A'"}], "mark": {"type": "text", "align": "right", "font": "Liberation Serif", "fontSize": 8, "dx": -3}, "encoding": {"x": {"datum": 152, "axis": {"values": [0,20,40,60,80,100,120,140], "title": "Time (months)"}}, "y": {"datum": 0.9, "axis": {"values": [0,0.2,0.4,0.6,0.8,1], "format": ".1f", "title": "Probability"}}, "text": {"field": "pv"}}},
  {"data": {"name": "ann"}, "transform": [{"filter": "datum.p=='A'"}], "mark": {"type": "text", "align": "center", "fontSize": 11, "fontWeight": "bold", "dx": -21}, "encoding": {"x": {"datum": -2.7, "axis": {"values": [0,20,40,60,80,100,120,140], "title": "Time (months)"}}, "y": {"datum": 1.0, "axis": {"values": [0,0.2,0.4,0.6,0.8,1], "format": ".1f", "title": "Probability"}}, "text": {"field": "letter"}}}
 ]},
 {"width": 176, "height": 11, "view": {"stroke": null}, "title": {"text": "Number at risk", "font": "Liberation Sans", "fontSize": 5.5, "anchor": "start", "offset": 0},
  "data": {"name": "risk"}, "transform": [{"filter": "datum.p=='A'"}], "mark": {"type": "text", "fontSize": 5.5},
  "encoding": {"x": {"field": "t", "type": "quantitative", "scale": {"domain": [-2.7, 152], "nice": false, "zero": false}, "axis": null},
   "y": {"field": "g", "type": "nominal", "sort": ["low","high"], "axis": {"title": null, "domain": false, "ticks": false, "labelAngle": 0, "labelAlign": "right", "labelBaseline": "middle", "labelPadding": 7, "labelColor": {"expr": "datum.value=='high' ? '#ff1a1a' : '#222222'"}}},
   "text": {"field": "n"}, "color": {"condition": {"test": "datum.g=='high'", "value": "#ff1a1a"}, "value": "#222222"}}}
]},
{"spacing": 1, "resolve": {"scale": {"color": "independent"}}, "vconcat": [
 {"width": 176, "height": 117, "title": "XPNPEP2", "layer": [
  {"data": {"name": "km"}, "transform": [{"filter": "datum.p=='B'"}], "mark": {"type": "line", "interpolate": "step-after", "strokeWidth": 0.8},
   "encoding": {"x": {"field": "t", "type": "quantitative", "scale": {"domain": [-2.7, 152], "nice": false, "zero": false}, "axis": {"values": [0,20,40,60,80,100,120,140], "title": "Time (months)"}},
    "y": {"field": "s", "type": "quantitative", "scale": {"domain": [-0.04, 1.04], "nice": false}, "axis": {"values": [0,0.2,0.4,0.6,0.8,1], "format": ".1f", "title": "Probability"}},
    "color": {"field": "g", "type": "nominal", "scale": {"domain": ["low","high"], "range": ["#333333","#ff1a1a"]}, "legend": {"title": "Expression"}}}},
  {"data": {"name": "cens"}, "transform": [{"filter": "datum.p=='B'"}], "mark": {"type": "point", "shape": "M-1,0H1M0,-1V1", "size": 14, "strokeWidth": 0.7, "filled": false, "opacity": 1},
   "encoding": {"x": {"field": "t", "type": "quantitative", "axis": {"values": [0,20,40,60,80,100,120,140], "title": "Time (months)"}}, "y": {"field": "s", "type": "quantitative", "axis": {"values": [0,0.2,0.4,0.6,0.8,1], "format": ".1f", "title": "Probability"}}, "color": {"field": "g", "type": "nominal"}}},
  {"data": {"name": "ann"}, "transform": [{"filter": "datum.p=='B'"}], "mark": {"type": "text", "align": "right", "fontSize": 5, "dx": -3}, "encoding": {"x": {"datum": 152, "axis": {"values": [0,20,40,60,80,100,120,140], "title": "Time (months)"}}, "y": {"datum": 1.0, "axis": {"values": [0,0.2,0.4,0.6,0.8,1], "format": ".1f", "title": "Probability"}}, "text": {"field": "hr"}}},
  {"data": {"name": "ann"}, "transform": [{"filter": "datum.p=='B'"}], "mark": {"type": "text", "align": "right", "font": "Liberation Serif", "fontSize": 8, "dx": -3}, "encoding": {"x": {"datum": 152, "axis": {"values": [0,20,40,60,80,100,120,140], "title": "Time (months)"}}, "y": {"datum": 0.9, "axis": {"values": [0,0.2,0.4,0.6,0.8,1], "format": ".1f", "title": "Probability"}}, "text": {"field": "pv"}}},
  {"data": {"name": "ann"}, "transform": [{"filter": "datum.p=='B'"}], "mark": {"type": "text", "align": "center", "fontSize": 11, "fontWeight": "bold", "dx": -21}, "encoding": {"x": {"datum": -2.7, "axis": {"values": [0,20,40,60,80,100,120,140], "title": "Time (months)"}}, "y": {"datum": 1.0, "axis": {"values": [0,0.2,0.4,0.6,0.8,1], "format": ".1f", "title": "Probability"}}, "text": {"field": "letter"}}}
 ]},
 {"width": 176, "height": 11, "view": {"stroke": null}, "title": {"text": "Number at risk", "font": "Liberation Sans", "fontSize": 5.5, "anchor": "start", "offset": 0},
  "data": {"name": "risk"}, "transform": [{"filter": "datum.p=='B'"}], "mark": {"type": "text", "fontSize": 5.5},
  "encoding": {"x": {"field": "t", "type": "quantitative", "scale": {"domain": [-2.7, 152], "nice": false, "zero": false}, "axis": null},
   "y": {"field": "g", "type": "nominal", "sort": ["low","high"], "axis": {"title": null, "domain": false, "ticks": false, "labelAngle": 0, "labelAlign": "right", "labelBaseline": "middle", "labelPadding": 7, "labelColor": {"expr": "datum.value=='high' ? '#ff1a1a' : '#222222'"}}},
   "text": {"field": "n"}, "color": {"condition": {"test": "datum.g=='high'", "value": "#ff1a1a"}, "value": "#222222"}}}
]},
{"spacing": 1, "resolve": {"scale": {"color": "independent"}}, "vconcat": [
 {"width": 176, "height": 117, "title": "CELA3B", "layer": [
  {"data": {"name": "km"}, "transform": [{"filter": "datum.p=='C'"}], "mark": {"type": "line", "interpolate": "step-after", "strokeWidth": 0.8},
   "encoding": {"x": {"field": "t", "type": "quantitative", "scale": {"domain": [-2.7, 152], "nice": false, "zero": false}, "axis": {"values": [0,20,40,60,80,100,120,140], "title": "Time (months)"}},
    "y": {"field": "s", "type": "quantitative", "scale": {"domain": [-0.04, 1.04], "nice": false}, "axis": {"values": [0,0.2,0.4,0.6,0.8,1], "format": ".1f", "title": "Probability"}},
    "color": {"field": "g", "type": "nominal", "scale": {"domain": ["low","high"], "range": ["#333333","#ff1a1a"]}, "legend": {"title": "Expression"}}}},
  {"data": {"name": "cens"}, "transform": [{"filter": "datum.p=='C'"}], "mark": {"type": "point", "shape": "M-1,0H1M0,-1V1", "size": 14, "strokeWidth": 0.7, "filled": false, "opacity": 1},
   "encoding": {"x": {"field": "t", "type": "quantitative", "axis": {"values": [0,20,40,60,80,100,120,140], "title": "Time (months)"}}, "y": {"field": "s", "type": "quantitative", "axis": {"values": [0,0.2,0.4,0.6,0.8,1], "format": ".1f", "title": "Probability"}}, "color": {"field": "g", "type": "nominal"}}},
  {"data": {"name": "ann"}, "transform": [{"filter": "datum.p=='C'"}], "mark": {"type": "text", "align": "right", "fontSize": 5, "dx": -3}, "encoding": {"x": {"datum": 152, "axis": {"values": [0,20,40,60,80,100,120,140], "title": "Time (months)"}}, "y": {"datum": 1.0, "axis": {"values": [0,0.2,0.4,0.6,0.8,1], "format": ".1f", "title": "Probability"}}, "text": {"field": "hr"}}},
  {"data": {"name": "ann"}, "transform": [{"filter": "datum.p=='C'"}], "mark": {"type": "text", "align": "right", "font": "Liberation Serif", "fontSize": 8, "dx": -3}, "encoding": {"x": {"datum": 152, "axis": {"values": [0,20,40,60,80,100,120,140], "title": "Time (months)"}}, "y": {"datum": 0.9, "axis": {"values": [0,0.2,0.4,0.6,0.8,1], "format": ".1f", "title": "Probability"}}, "text": {"field": "pv"}}},
  {"data": {"name": "ann"}, "transform": [{"filter": "datum.p=='C'"}], "mark": {"type": "text", "align": "center", "fontSize": 11, "fontWeight": "bold", "dx": -21}, "encoding": {"x": {"datum": -2.7, "axis": {"values": [0,20,40,60,80,100,120,140], "title": "Time (months)"}}, "y": {"datum": 1.0, "axis": {"values": [0,0.2,0.4,0.6,0.8,1], "format": ".1f", "title": "Probability"}}, "text": {"field": "letter"}}}
 ]},
 {"width": 176, "height": 11, "view": {"stroke": null}, "title": {"text": "Number at risk", "font": "Liberation Sans", "fontSize": 5.5, "anchor": "start", "offset": 0},
  "data": {"name": "risk"}, "transform": [{"filter": "datum.p=='C'"}], "mark": {"type": "text", "fontSize": 5.5},
  "encoding": {"x": {"field": "t", "type": "quantitative", "scale": {"domain": [-2.7, 152], "nice": false, "zero": false}, "axis": null},
   "y": {"field": "g", "type": "nominal", "sort": ["low","high"], "axis": {"title": null, "domain": false, "ticks": false, "labelAngle": 0, "labelAlign": "right", "labelBaseline": "middle", "labelPadding": 7, "labelColor": {"expr": "datum.value=='high' ? '#ff1a1a' : '#222222'"}}},
   "text": {"field": "n"}, "color": {"condition": {"test": "datum.g=='high'", "value": "#ff1a1a"}, "value": "#222222"}}}
]},
{"spacing": 1, "resolve": {"scale": {"color": "independent"}}, "vconcat": [
 {"width": 176, "height": 117, "title": "NPFFR2", "layer": [
  {"data": {"name": "km"}, "transform": [{"filter": "datum.p=='D'"}], "mark": {"type": "line", "interpolate": "step-after", "strokeWidth": 0.8},
   "encoding": {"x": {"field": "t", "type": "quantitative", "scale": {"domain": [-3, 256], "nice": false, "zero": false}, "axis": {"values": [0,50,100,150,200,250], "title": "Time (months)"}},
    "y": {"field": "s", "type": "quantitative", "scale": {"domain": [-0.04, 1.04], "nice": false}, "axis": {"values": [0,0.2,0.4,0.6,0.8,1], "format": ".1f", "title": "Probability"}},
    "color": {"field": "g", "type": "nominal", "scale": {"domain": ["low","high"], "range": ["#333333","#ff1a1a"]}, "legend": {"title": "Expression"}}}},
  {"data": {"name": "cens"}, "transform": [{"filter": "datum.p=='D'"}], "mark": {"type": "point", "shape": "M-1,0H1M0,-1V1", "size": 14, "strokeWidth": 0.7, "filled": false, "opacity": 1},
   "encoding": {"x": {"field": "t", "type": "quantitative", "axis": {"values": [0,50,100,150,200,250], "title": "Time (months)"}}, "y": {"field": "s", "type": "quantitative", "axis": {"values": [0,0.2,0.4,0.6,0.8,1], "format": ".1f", "title": "Probability"}}, "color": {"field": "g", "type": "nominal"}}},
  {"data": {"name": "ann"}, "transform": [{"filter": "datum.p=='D'"}], "mark": {"type": "text", "align": "right", "fontSize": 5, "dx": -3}, "encoding": {"x": {"datum": 256, "axis": {"values": [0,50,100,150,200,250], "title": "Time (months)"}}, "y": {"datum": 1.0, "axis": {"values": [0,0.2,0.4,0.6,0.8,1], "format": ".1f", "title": "Probability"}}, "text": {"field": "hr"}}},
  {"data": {"name": "ann"}, "transform": [{"filter": "datum.p=='D'"}], "mark": {"type": "text", "align": "right", "font": "Liberation Serif", "fontSize": 8, "dx": -3}, "encoding": {"x": {"datum": 256, "axis": {"values": [0,50,100,150,200,250], "title": "Time (months)"}}, "y": {"datum": 0.86, "axis": {"values": [0,0.2,0.4,0.6,0.8,1], "format": ".1f", "title": "Probability"}}, "text": {"field": "pv"}}},
  {"data": {"name": "ann"}, "transform": [{"filter": "datum.p=='D'"}], "mark": {"type": "text", "align": "center", "fontSize": 11, "fontWeight": "bold", "dx": -21}, "encoding": {"x": {"datum": -3, "axis": {"values": [0,50,100,150,200,250], "title": "Time (months)"}}, "y": {"datum": 1.0, "axis": {"values": [0,0.2,0.4,0.6,0.8,1], "format": ".1f", "title": "Probability"}}, "text": {"field": "letter"}}}
 ]},
 {"width": 176, "height": 11, "view": {"stroke": null}, "title": {"text": "Number at risk", "font": "Liberation Sans", "fontSize": 5.5, "anchor": "start", "offset": 0},
  "data": {"name": "risk"}, "transform": [{"filter": "datum.p=='D'"}], "mark": {"type": "text", "fontSize": 5.5},
  "encoding": {"x": {"field": "t", "type": "quantitative", "scale": {"domain": [-3, 256], "nice": false, "zero": false}, "axis": null},
   "y": {"field": "g", "type": "nominal", "sort": ["low","high"], "axis": {"title": null, "domain": false, "ticks": false, "labelAngle": 0, "labelAlign": "right", "labelBaseline": "middle", "labelPadding": 7, "labelColor": {"expr": "datum.value=='high' ? '#ff1a1a' : '#222222'"}}},
   "text": {"field": "n"}, "color": {"condition": {"test": "datum.g=='high'", "value": "#ff1a1a"}, "value": "#222222"}}}
]},
{"spacing": 1, "resolve": {"scale": {"color": "independent"}}, "vconcat": [
 {"width": 176, "height": 117, "title": "XPNPEP2", "layer": [
  {"data": {"name": "km"}, "transform": [{"filter": "datum.p=='E'"}], "mark": {"type": "line", "interpolate": "step-after", "strokeWidth": 0.8},
   "encoding": {"x": {"field": "t", "type": "quantitative", "scale": {"domain": [-3, 256], "nice": false, "zero": false}, "axis": {"values": [0,50,100,150,200,250], "title": "Time (months)"}},
    "y": {"field": "s", "type": "quantitative", "scale": {"domain": [-0.04, 1.04], "nice": false}, "axis": {"values": [0,0.2,0.4,0.6,0.8,1], "format": ".1f", "title": "Probability"}},
    "color": {"field": "g", "type": "nominal", "scale": {"domain": ["low","high"], "range": ["#333333","#ff1a1a"]}, "legend": {"title": "Expression"}}}},
  {"data": {"name": "cens"}, "transform": [{"filter": "datum.p=='E'"}], "mark": {"type": "point", "shape": "M-1,0H1M0,-1V1", "size": 14, "strokeWidth": 0.7, "filled": false, "opacity": 1},
   "encoding": {"x": {"field": "t", "type": "quantitative", "axis": {"values": [0,50,100,150,200,250], "title": "Time (months)"}}, "y": {"field": "s", "type": "quantitative", "axis": {"values": [0,0.2,0.4,0.6,0.8,1], "format": ".1f", "title": "Probability"}}, "color": {"field": "g", "type": "nominal"}}},
  {"data": {"name": "ann"}, "transform": [{"filter": "datum.p=='E'"}], "mark": {"type": "text", "align": "right", "fontSize": 5, "dx": -3}, "encoding": {"x": {"datum": 256, "axis": {"values": [0,50,100,150,200,250], "title": "Time (months)"}}, "y": {"datum": 1.0, "axis": {"values": [0,0.2,0.4,0.6,0.8,1], "format": ".1f", "title": "Probability"}}, "text": {"field": "hr"}}},
  {"data": {"name": "ann"}, "transform": [{"filter": "datum.p=='E'"}], "mark": {"type": "text", "align": "right", "font": "Liberation Serif", "fontSize": 8, "dx": -3}, "encoding": {"x": {"datum": 256, "axis": {"values": [0,50,100,150,200,250], "title": "Time (months)"}}, "y": {"datum": 0.86, "axis": {"values": [0,0.2,0.4,0.6,0.8,1], "format": ".1f", "title": "Probability"}}, "text": {"field": "pv"}}},
  {"data": {"name": "ann"}, "transform": [{"filter": "datum.p=='E'"}], "mark": {"type": "text", "align": "center", "fontSize": 11, "fontWeight": "bold", "dx": -21}, "encoding": {"x": {"datum": -3, "axis": {"values": [0,50,100,150,200,250], "title": "Time (months)"}}, "y": {"datum": 1.0, "axis": {"values": [0,0.2,0.4,0.6,0.8,1], "format": ".1f", "title": "Probability"}}, "text": {"field": "letter"}}}
 ]},
 {"width": 176, "height": 11, "view": {"stroke": null}, "title": {"text": "Number at risk", "font": "Liberation Sans", "fontSize": 5.5, "anchor": "start", "offset": 0},
  "data": {"name": "risk"}, "transform": [{"filter": "datum.p=='E'"}], "mark": {"type": "text", "fontSize": 5.5},
  "encoding": {"x": {"field": "t", "type": "quantitative", "scale": {"domain": [-3, 256], "nice": false, "zero": false}, "axis": null},
   "y": {"field": "g", "type": "nominal", "sort": ["low","high"], "axis": {"title": null, "domain": false, "ticks": false, "labelAngle": 0, "labelAlign": "right", "labelBaseline": "middle", "labelPadding": 7, "labelColor": {"expr": "datum.value=='high' ? '#ff1a1a' : '#222222'"}}},
   "text": {"field": "n"}, "color": {"condition": {"test": "datum.g=='high'", "value": "#ff1a1a"}, "value": "#222222"}}}
]},
{"spacing": 1, "resolve": {"scale": {"color": "independent"}}, "vconcat": [
 {"width": 176, "height": 117, "title": "CELA3B", "layer": [
  {"data": {"name": "km"}, "transform": [{"filter": "datum.p=='F'"}], "mark": {"type": "line", "interpolate": "step-after", "strokeWidth": 0.8},
   "encoding": {"x": {"field": "t", "type": "quantitative", "scale": {"domain": [-3, 256], "nice": false, "zero": false}, "axis": {"values": [0,50,100,150,200,250], "title": "Time (months)"}},
    "y": {"field": "s", "type": "quantitative", "scale": {"domain": [-0.04, 1.04], "nice": false}, "axis": {"values": [0,0.2,0.4,0.6,0.8,1], "format": ".1f", "title": "Probability"}},
    "color": {"field": "g", "type": "nominal", "scale": {"domain": ["low","high"], "range": ["#333333","#ff1a1a"]}, "legend": {"title": "Expression"}}}},
  {"data": {"name": "cens"}, "transform": [{"filter": "datum.p=='F'"}], "mark": {"type": "point", "shape": "M-1,0H1M0,-1V1", "size": 14, "strokeWidth": 0.7, "filled": false, "opacity": 1},
   "encoding": {"x": {"field": "t", "type": "quantitative", "axis": {"values": [0,50,100,150,200,250], "title": "Time (months)"}}, "y": {"field": "s", "type": "quantitative", "axis": {"values": [0,0.2,0.4,0.6,0.8,1], "format": ".1f", "title": "Probability"}}, "color": {"field": "g", "type": "nominal"}}},
  {"data": {"name": "ann"}, "transform": [{"filter": "datum.p=='F'"}], "mark": {"type": "text", "align": "right", "fontSize": 5, "dx": -3}, "encoding": {"x": {"datum": 256, "axis": {"values": [0,50,100,150,200,250], "title": "Time (months)"}}, "y": {"datum": 1.0, "axis": {"values": [0,0.2,0.4,0.6,0.8,1], "format": ".1f", "title": "Probability"}}, "text": {"field": "hr"}}},
  {"data": {"name": "ann"}, "transform": [{"filter": "datum.p=='F'"}], "mark": {"type": "text", "align": "right", "font": "Liberation Serif", "fontSize": 8, "dx": -3}, "encoding": {"x": {"datum": 256, "axis": {"values": [0,50,100,150,200,250], "title": "Time (months)"}}, "y": {"datum": 0.9, "axis": {"values": [0,0.2,0.4,0.6,0.8,1], "format": ".1f", "title": "Probability"}}, "text": {"field": "pv"}}},
  {"data": {"name": "ann"}, "transform": [{"filter": "datum.p=='F'"}], "mark": {"type": "text", "align": "center", "fontSize": 11, "fontWeight": "bold", "dx": -21}, "encoding": {"x": {"datum": -3, "axis": {"values": [0,50,100,150,200,250], "title": "Time (months)"}}, "y": {"datum": 1.0, "axis": {"values": [0,0.2,0.4,0.6,0.8,1], "format": ".1f", "title": "Probability"}}, "text": {"field": "letter"}}}
 ]},
 {"width": 176, "height": 11, "view": {"stroke": null}, "title": {"text": "Number at risk", "font": "Liberation Sans", "fontSize": 5.5, "anchor": "start", "offset": 0},
  "data": {"name": "risk"}, "transform": [{"filter": "datum.p=='F'"}], "mark": {"type": "text", "fontSize": 5.5},
  "encoding": {"x": {"field": "t", "type": "quantitative", "scale": {"domain": [-3, 256], "nice": false, "zero": false}, "axis": null},
   "y": {"field": "g", "type": "nominal", "sort": ["low","high"], "axis": {"title": null, "domain": false, "ticks": false, "labelAngle": 0, "labelAlign": "right", "labelBaseline": "middle", "labelPadding": 7, "labelColor": {"expr": "datum.value=='high' ? '#ff1a1a' : '#222222'"}}},
   "text": {"field": "n"}, "color": {"condition": {"test": "datum.g=='high'", "value": "#ff1a1a"}, "value": "#222222"}}}
]},
{"spacing": 1, "resolve": {"scale": {"color": "independent"}}, "vconcat": [
 {"width": 176, "height": 117, "title": "NPFFR2", "layer": [
  {"data": {"name": "km"}, "transform": [{"filter": "datum.p=='G'"}], "mark": {"type": "line", "interpolate": "step-after", "strokeWidth": 0.8},
   "encoding": {"x": {"field": "t", "type": "quantitative", "scale": {"domain": [-3, 256], "nice": false, "zero": false}, "axis": {"values": [0,50,100,150,200,250], "title": "Time (months)"}},
    "y": {"field": "s", "type": "quantitative", "scale": {"domain": [-0.04, 1.04], "nice": false}, "axis": {"values": [0,0.2,0.4,0.6,0.8,1], "format": ".1f", "title": "Probability"}},
    "color": {"field": "g", "type": "nominal", "scale": {"domain": ["low","high"], "range": ["#333333","#ff1a1a"]}, "legend": {"title": "Expression"}}}},
  {"data": {"name": "cens"}, "transform": [{"filter": "datum.p=='G'"}], "mark": {"type": "point", "shape": "M-1,0H1M0,-1V1", "size": 14, "strokeWidth": 0.7, "filled": false, "opacity": 1},
   "encoding": {"x": {"field": "t", "type": "quantitative", "axis": {"values": [0,50,100,150,200,250], "title": "Time (months)"}}, "y": {"field": "s", "type": "quantitative", "axis": {"values": [0,0.2,0.4,0.6,0.8,1], "format": ".1f", "title": "Probability"}}, "color": {"field": "g", "type": "nominal"}}},
  {"data": {"name": "ann"}, "transform": [{"filter": "datum.p=='G'"}], "mark": {"type": "text", "align": "right", "fontSize": 5, "dx": -3}, "encoding": {"x": {"datum": 256, "axis": {"values": [0,50,100,150,200,250], "title": "Time (months)"}}, "y": {"datum": 1.0, "axis": {"values": [0,0.2,0.4,0.6,0.8,1], "format": ".1f", "title": "Probability"}}, "text": {"field": "hr"}}},
  {"data": {"name": "ann"}, "transform": [{"filter": "datum.p=='G'"}], "mark": {"type": "text", "align": "right", "font": "Liberation Serif", "fontSize": 8, "dx": -3}, "encoding": {"x": {"datum": 256, "axis": {"values": [0,50,100,150,200,250], "title": "Time (months)"}}, "y": {"datum": 0.9, "axis": {"values": [0,0.2,0.4,0.6,0.8,1], "format": ".1f", "title": "Probability"}}, "text": {"field": "pv"}}},
  {"data": {"name": "ann"}, "transform": [{"filter": "datum.p=='G'"}], "mark": {"type": "text", "align": "center", "fontSize": 11, "fontWeight": "bold", "dx": -21}, "encoding": {"x": {"datum": -3, "axis": {"values": [0,50,100,150,200,250], "title": "Time (months)"}}, "y": {"datum": 1.0, "axis": {"values": [0,0.2,0.4,0.6,0.8,1], "format": ".1f", "title": "Probability"}}, "text": {"field": "letter"}}}
 ]},
 {"width": 176, "height": 11, "view": {"stroke": null}, "title": {"text": "Number at risk", "font": "Liberation Sans", "fontSize": 5.5, "anchor": "start", "offset": 0},
  "data": {"name": "risk"}, "transform": [{"filter": "datum.p=='G'"}], "mark": {"type": "text", "fontSize": 5.5},
  "encoding": {"x": {"field": "t", "type": "quantitative", "scale": {"domain": [-3, 256], "nice": false, "zero": false}, "axis": null},
   "y": {"field": "g", "type": "nominal", "sort": ["low","high"], "axis": {"title": null, "domain": false, "ticks": false, "labelAngle": 0, "labelAlign": "right", "labelBaseline": "middle", "labelPadding": 7, "labelColor": {"expr": "datum.value=='high' ? '#ff1a1a' : '#222222'"}}},
   "text": {"field": "n"}, "color": {"condition": {"test": "datum.g=='high'", "value": "#ff1a1a"}, "value": "#222222"}}}
]},
{"spacing": 1, "resolve": {"scale": {"color": "independent"}}, "vconcat": [
 {"width": 176, "height": 117, "title": "XPNPEP2", "layer": [
  {"data": {"name": "km"}, "transform": [{"filter": "datum.p=='H'"}], "mark": {"type": "line", "interpolate": "step-after", "strokeWidth": 0.8},
   "encoding": {"x": {"field": "t", "type": "quantitative", "scale": {"domain": [-3, 256], "nice": false, "zero": false}, "axis": {"values": [0,50,100,150,200,250], "title": "Time (months)"}},
    "y": {"field": "s", "type": "quantitative", "scale": {"domain": [-0.04, 1.04], "nice": false}, "axis": {"values": [0,0.2,0.4,0.6,0.8,1], "format": ".1f", "title": "Probability"}},
    "color": {"field": "g", "type": "nominal", "scale": {"domain": ["low","high"], "range": ["#333333","#ff1a1a"]}, "legend": {"title": "Expression"}}}},
  {"data": {"name": "cens"}, "transform": [{"filter": "datum.p=='H'"}], "mark": {"type": "point", "shape": "M-1,0H1M0,-1V1", "size": 14, "strokeWidth": 0.7, "filled": false, "opacity": 1},
   "encoding": {"x": {"field": "t", "type": "quantitative", "axis": {"values": [0,50,100,150,200,250], "title": "Time (months)"}}, "y": {"field": "s", "type": "quantitative", "axis": {"values": [0,0.2,0.4,0.6,0.8,1], "format": ".1f", "title": "Probability"}}, "color": {"field": "g", "type": "nominal"}}},
  {"data": {"name": "ann"}, "transform": [{"filter": "datum.p=='H'"}], "mark": {"type": "text", "align": "right", "fontSize": 5, "dx": -3}, "encoding": {"x": {"datum": 256, "axis": {"values": [0,50,100,150,200,250], "title": "Time (months)"}}, "y": {"datum": 1.0, "axis": {"values": [0,0.2,0.4,0.6,0.8,1], "format": ".1f", "title": "Probability"}}, "text": {"field": "hr"}}},
  {"data": {"name": "ann"}, "transform": [{"filter": "datum.p=='H'"}], "mark": {"type": "text", "align": "right", "font": "Liberation Serif", "fontSize": 8, "dx": -3}, "encoding": {"x": {"datum": 256, "axis": {"values": [0,50,100,150,200,250], "title": "Time (months)"}}, "y": {"datum": 0.9, "axis": {"values": [0,0.2,0.4,0.6,0.8,1], "format": ".1f", "title": "Probability"}}, "text": {"field": "pv"}}},
  {"data": {"name": "ann"}, "transform": [{"filter": "datum.p=='H'"}], "mark": {"type": "text", "align": "center", "fontSize": 11, "fontWeight": "bold", "dx": -21}, "encoding": {"x": {"datum": -3, "axis": {"values": [0,50,100,150,200,250], "title": "Time (months)"}}, "y": {"datum": 1.0, "axis": {"values": [0,0.2,0.4,0.6,0.8,1], "format": ".1f", "title": "Probability"}}, "text": {"field": "letter"}}}
 ]},
 {"width": 176, "height": 11, "view": {"stroke": null}, "title": {"text": "Number at risk", "font": "Liberation Sans", "fontSize": 5.5, "anchor": "start", "offset": 0},
  "data": {"name": "risk"}, "transform": [{"filter": "datum.p=='H'"}], "mark": {"type": "text", "fontSize": 5.5},
  "encoding": {"x": {"field": "t", "type": "quantitative", "scale": {"domain": [-3, 256], "nice": false, "zero": false}, "axis": null},
   "y": {"field": "g", "type": "nominal", "sort": ["low","high"], "axis": {"title": null, "domain": false, "ticks": false, "labelAngle": 0, "labelAlign": "right", "labelBaseline": "middle", "labelPadding": 7, "labelColor": {"expr": "datum.value=='high' ? '#ff1a1a' : '#222222'"}}},
   "text": {"field": "n"}, "color": {"condition": {"test": "datum.g=='high'", "value": "#ff1a1a"}, "value": "#222222"}}}
]},
{"spacing": 1, "resolve": {"scale": {"color": "independent"}}, "vconcat": [
 {"width": 176, "height": 117, "title": "CELA3B", "layer": [
  {"data": {"name": "km"}, "transform": [{"filter": "datum.p=='I'"}], "mark": {"type": "line", "interpolate": "step-after", "strokeWidth": 0.8},
   "encoding": {"x": {"field": "t", "type": "quantitative", "scale": {"domain": [-3, 256], "nice": false, "zero": false}, "axis": {"values": [0,50,100,150,200,250], "title": "Time (months)"}},
    "y": {"field": "s", "type": "quantitative", "scale": {"domain": [-0.04, 1.04], "nice": false}, "axis": {"values": [0,0.2,0.4,0.6,0.8,1], "format": ".1f", "title": "Probability"}},
    "color": {"field": "g", "type": "nominal", "scale": {"domain": ["low","high"], "range": ["#333333","#ff1a1a"]}, "legend": {"title": "Expression"}}}},
  {"data": {"name": "cens"}, "transform": [{"filter": "datum.p=='I'"}], "mark": {"type": "point", "shape": "M-1,0H1M0,-1V1", "size": 14, "strokeWidth": 0.7, "filled": false, "opacity": 1},
   "encoding": {"x": {"field": "t", "type": "quantitative", "axis": {"values": [0,50,100,150,200,250], "title": "Time (months)"}}, "y": {"field": "s", "type": "quantitative", "axis": {"values": [0,0.2,0.4,0.6,0.8,1], "format": ".1f", "title": "Probability"}}, "color": {"field": "g", "type": "nominal"}}},
  {"data": {"name": "ann"}, "transform": [{"filter": "datum.p=='I'"}], "mark": {"type": "text", "align": "right", "fontSize": 5, "dx": -3}, "encoding": {"x": {"datum": 256, "axis": {"values": [0,50,100,150,200,250], "title": "Time (months)"}}, "y": {"datum": 1.0, "axis": {"values": [0,0.2,0.4,0.6,0.8,1], "format": ".1f", "title": "Probability"}}, "text": {"field": "hr"}}},
  {"data": {"name": "ann"}, "transform": [{"filter": "datum.p=='I'"}], "mark": {"type": "text", "align": "right", "font": "Liberation Serif", "fontSize": 8, "dx": -3}, "encoding": {"x": {"datum": 256, "axis": {"values": [0,50,100,150,200,250], "title": "Time (months)"}}, "y": {"datum": 0.9, "axis": {"values": [0,0.2,0.4,0.6,0.8,1], "format": ".1f", "title": "Probability"}}, "text": {"field": "pv"}}},
  {"data": {"name": "ann"}, "transform": [{"filter": "datum.p=='I'"}], "mark": {"type": "text", "align": "center", "fontSize": 11, "fontWeight": "bold", "dx": -21}, "encoding": {"x": {"datum": -3, "axis": {"values": [0,50,100,150,200,250], "title": "Time (months)"}}, "y": {"datum": 1.0, "axis": {"values": [0,0.2,0.4,0.6,0.8,1], "format": ".1f", "title": "Probability"}}, "text": {"field": "letter"}}}
 ]},
 {"width": 176, "height": 11, "view": {"stroke": null}, "title": {"text": "Number at risk", "font": "Liberation Sans", "fontSize": 5.5, "anchor": "start", "offset": 0},
  "data": {"name": "risk"}, "transform": [{"filter": "datum.p=='I'"}], "mark": {"type": "text", "fontSize": 5.5},
  "encoding": {"x": {"field": "t", "type": "quantitative", "scale": {"domain": [-3, 256], "nice": false, "zero": false}, "axis": null},
   "y": {"field": "g", "type": "nominal", "sort": ["low","high"], "axis": {"title": null, "domain": false, "ticks": false, "labelAngle": 0, "labelAlign": "right", "labelBaseline": "middle", "labelPadding": 7, "labelColor": {"expr": "datum.value=='high' ? '#ff1a1a' : '#222222'"}}},
   "text": {"field": "n"}, "color": {"condition": {"test": "datum.g=='high'", "value": "#ff1a1a"}, "value": "#222222"}}}
]},
{"spacing": 1, "resolve": {"scale": {"color": "independent"}}, "vconcat": [
 {"width": 176, "height": 117, "title": "Weight model", "layer": [
  {"data": {"name": "km"}, "transform": [{"filter": "datum.p=='J'"}], "mark": {"type": "line", "interpolate": "step-after", "strokeWidth": 0.8},
   "encoding": {"x": {"field": "t", "type": "quantitative", "scale": {"domain": [-3, 256], "nice": false, "zero": false}, "axis": {"values": [0,50,100,150,200,250], "title": "Time (months)"}},
    "y": {"field": "s", "type": "quantitative", "scale": {"domain": [-0.04, 1.04], "nice": false}, "axis": {"values": [0,0.2,0.4,0.6,0.8,1], "format": ".1f", "title": "Probability"}},
    "color": {"field": "g", "type": "nominal", "scale": {"domain": ["low","high"], "range": ["#333333","#ff1a1a"]}, "legend": {"title": "Expression"}}}},
  {"data": {"name": "cens"}, "transform": [{"filter": "datum.p=='J'"}], "mark": {"type": "point", "shape": "M-1,0H1M0,-1V1", "size": 14, "strokeWidth": 0.7, "filled": false, "opacity": 1},
   "encoding": {"x": {"field": "t", "type": "quantitative", "axis": {"values": [0,50,100,150,200,250], "title": "Time (months)"}}, "y": {"field": "s", "type": "quantitative", "axis": {"values": [0,0.2,0.4,0.6,0.8,1], "format": ".1f", "title": "Probability"}}, "color": {"field": "g", "type": "nominal"}}},
  {"data": {"name": "ann"}, "transform": [{"filter": "datum.p=='J'"}], "mark": {"type": "text", "align": "right", "fontSize": 5, "dx": -3}, "encoding": {"x": {"datum": 256, "axis": {"values": [0,50,100,150,200,250], "title": "Time (months)"}}, "y": {"datum": 1.0, "axis": {"values": [0,0.2,0.4,0.6,0.8,1], "format": ".1f", "title": "Probability"}}, "text": {"field": "hr"}}},
  {"data": {"name": "ann"}, "transform": [{"filter": "datum.p=='J'"}], "mark": {"type": "text", "align": "right", "font": "Liberation Serif", "fontSize": 8, "dx": -3}, "encoding": {"x": {"datum": 256, "axis": {"values": [0,50,100,150,200,250], "title": "Time (months)"}}, "y": {"datum": 0.9, "axis": {"values": [0,0.2,0.4,0.6,0.8,1], "format": ".1f", "title": "Probability"}}, "text": {"field": "pv"}}},
  {"data": {"name": "ann"}, "transform": [{"filter": "datum.p=='J'"}], "mark": {"type": "text", "align": "center", "fontSize": 11, "fontWeight": "bold", "dx": -21}, "encoding": {"x": {"datum": -3, "axis": {"values": [0,50,100,150,200,250], "title": "Time (months)"}}, "y": {"datum": 1.0, "axis": {"values": [0,0.2,0.4,0.6,0.8,1], "format": ".1f", "title": "Probability"}}, "text": {"field": "letter"}}}
 ]},
 {"width": 176, "height": 11, "view": {"stroke": null}, "title": {"text": "Number at risk", "font": "Liberation Sans", "fontSize": 5.5, "anchor": "start", "offset": 0},
  "data": {"name": "risk"}, "transform": [{"filter": "datum.p=='J'"}], "mark": {"type": "text", "fontSize": 5.5},
  "encoding": {"x": {"field": "t", "type": "quantitative", "scale": {"domain": [-3, 256], "nice": false, "zero": false}, "axis": null},
   "y": {"field": "g", "type": "nominal", "sort": ["low","high"], "axis": {"title": null, "domain": false, "ticks": false, "labelAngle": 0, "labelAlign": "right", "labelBaseline": "middle", "labelPadding": 7, "labelColor": {"expr": "datum.value=='high' ? '#ff1a1a' : '#222222'"}}},
   "text": {"field": "n"}, "color": {"condition": {"test": "datum.g=='high'", "value": "#ff1a1a"}, "value": "#222222"}}}
]}
],
"config": {
 "font": "Liberation Sans",
 "view": {"stroke": "#555555", "strokeWidth": 0.8},
 "axis": {"grid": false, "domain": false, "tickSize": 2.5, "tickColor": "#444444", "tickWidth": 0.7, "labelFontSize": 5.5, "labelColor": "#222222", "labelPadding": 1, "titleFontSize": 6.5, "titleFontWeight": "normal", "titleColor": "#222222", "titlePadding": 2, "labelFlush": false, "labelOverlap": false},
 "axisY": {"labelAngle": 270, "titleFontSize": 8},
 "legend": {"orient": "bottom-left", "offset": 4, "titleFontSize": 5.5, "titleFontWeight": "normal", "labelFontSize": 5.5, "symbolType": "stroke", "symbolSize": 100, "symbolStrokeWidth": 0.9, "rowPadding": 0, "titlePadding": 1, "padding": 0, "labelOffset": 3},
 "title": {"font": "Liberation Serif", "fontSize": 15, "fontWeight": "normal", "color": "#000000", "offset": 2, "frame": "group"},
 "text": {"font": "Liberation Sans", "color": "#000000"}
}
}
